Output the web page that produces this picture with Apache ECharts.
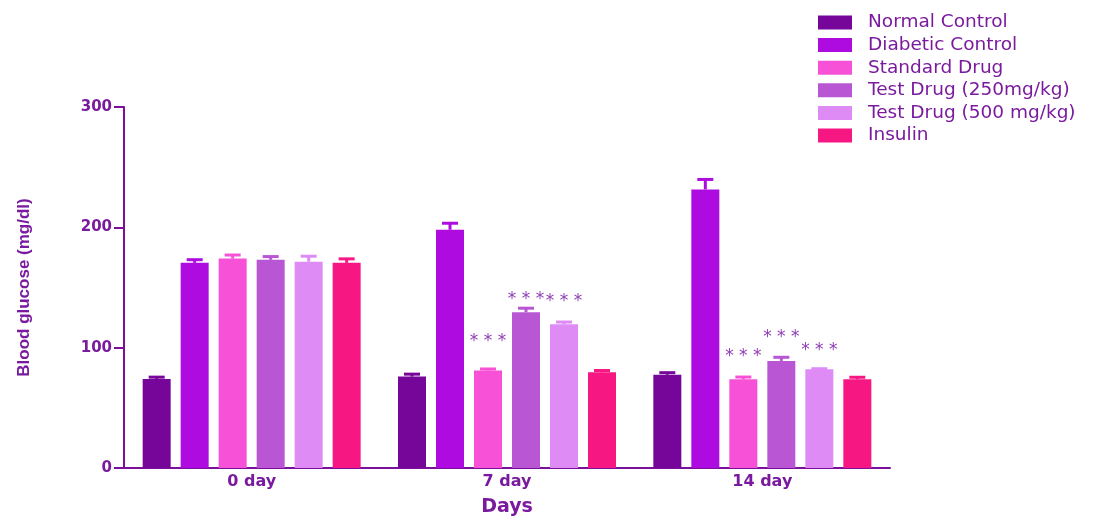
<!DOCTYPE html>
<html>
<head>
<meta charset="utf-8">
<script src="https://cdn.jsdelivr.net/npm/echarts@6/dist/echarts.min.js"></script>
<style>
html,body{margin:0;padding:0;background:#fff;}
#chart{width:1105px;height:516px;}
</style>
</head>
<body>
<div id="chart"></div>
<script>
const categories = ['0 day', '7 day', '14 day'];
const seriesNames = ['Normal Control', 'Diabetic Control', 'Standard Drug', 'Test Drug (250mg/kg)', 'Test Drug (500 mg/kg)', 'Insulin'];
const yTicks = [0, 100, 200, 300];

const normalControl   = [74, 76, 77.5];
const diabeticControl = [170.5, 198, 231.5];
const standardDrug    = [174, 81, 73.7];
const testDrug250     = [173, 129.5, 89];
const testDrug500     = [171.5, 119.5, 82];
const insulin         = [170.5, 79.5, 73.7];

const normalErr   = [1.5, 2, 1.7];
const diabeticErr = [2.6, 5.4, 8.3];
const standardErr = [3, 1.3, 1.9];
const test250Err  = [2.7, 3.3, 3];
const test500Err  = [4.5, 1.8, 0.5];
const insulinErr  = [3.3, 1.5, 1.7];

// significance markers: series index, category index, level (mg/dl)
const starSeries = [2, 3, 4, 2, 3, 4];
const starCats   = [1, 1, 1, 2, 2, 2];
const starLevels = [106.4, 141.9, 139.6, 94.5, 109.7, 98.9];
const starText = '* * *';

const colors = ['#76069A', '#AD0BE0', '#F752D7', '#B956D4', '#DE8BF6', '#F71783'];
const textColor = '#7A1A9E';
const axisColor = '#7A0F9C';
const starColor = '#8E3FB6';

const means = [normalControl, diabeticControl, standardDrug, testDrug250, testDrug500, insulin];
const errs = [normalErr, diabeticErr, standardErr, test250Err, test500Err, insulinErr];

const BAR_W = 28, BAR_GAP = 10, N = seriesNames.length;
function barOffset(sIdx) { return (sIdx - (N - 1) / 2) * (BAR_W + BAR_GAP); }

const series = [];
means.forEach((vals, s) => {
  series.push({
    type: 'bar',
    name: seriesNames[s],
    data: vals,
    barWidth: BAR_W,
    barGap: (BAR_GAP / BAR_W * 100) + '%',
    itemStyle: { color: colors[s] },
    z: 2
  });
});
means.forEach((vals, s) => {
  series.push({
    type: 'custom',
    name: seriesNames[s],
    data: vals.map((v, i) => [i, v, v + errs[s][i]]),
    z: 3,
    renderItem: function (params, api) {
      const base = api.coord([api.value(0), api.value(1)]);
      const top = api.coord([api.value(0), api.value(2)]);
      const x = base[0] + barOffset(s);
      const st = { stroke: colors[s], lineWidth: 3 };
      return {
        type: 'group',
        children: [
          { type: 'line', shape: { x1: x, y1: base[1], x2: x, y2: top[1] }, style: st },
          { type: 'line', shape: { x1: x - 8, y1: top[1], x2: x + 8, y2: top[1] }, style: st }
        ]
      };
    }
  });
});
series.push({
  type: 'custom',
  name: 'stars',
  data: starLevels.map((lv, i) => [starCats[i], lv, starSeries[i]]),
  z: 4,
  renderItem: function (params, api) {
    const p = api.coord([api.value(0), api.value(1)]);
    const x = p[0] + barOffset(api.value(2));
    return {
      type: 'text',
      style: {
        x: x, y: p[1] + 2,
        text: starText,
        fill: starColor,
        font: '17px "DejaVu Sans"',
        align: 'center',
        verticalAlign: 'middle'
      }
    };
  }
});

const chart = echarts.init(document.getElementById('chart'), null, { renderer: 'canvas' });
chart.setOption({
  animation: false,
  backgroundColor: '#ffffff',
  grid: { left: 124, right: 215, top: 107, bottom: 48, containLabel: false, outerBoundsMode: 'none' },
  legend: {
    data: seriesNames,
    orient: 'vertical',
    left: 813,
    top: 8,
    itemWidth: 34,
    itemHeight: 14,
    itemGap: 3.6,
    icon: 'rect',
    selectedMode: false,
    textStyle: { color: textColor, fontFamily: '"DejaVu Sans"', fontSize: 18.5, lineHeight: 19, padding: [0, 0, 0, 11] }
  },
  xAxis: {
    type: 'category',
    data: categories,
    name: 'Days',
    nameLocation: 'middle',
    nameGap: 30,
    nameTextStyle: { color: textColor, fontFamily: '"DejaVu Sans"', fontWeight: 'bold', fontSize: 19 },
    axisLine: { lineStyle: { color: axisColor, width: 2 } },
    axisTick: { alignWithLabel: true, length: 7, lineStyle: { color: axisColor, width: 2 } },
    axisLabel: { color: textColor, fontFamily: '"DejaVu Sans"', fontWeight: 'bold', fontSize: 16, margin: 6 }
  },
  yAxis: {
    type: 'value',
    min: yTicks[0],
    max: yTicks[yTicks.length - 1],
    interval: yTicks[1] - yTicks[0],
    name: 'Blood glucose (mg/dl)',
    nameLocation: 'middle',
    nameGap: 91,
    nameTextStyle: { color: textColor, fontFamily: '"Liberation Sans", Arial, sans-serif', fontWeight: 'bold', fontSize: 17 },
    axisLine: { show: true, lineStyle: { color: axisColor, width: 2 } },
    axisTick: { show: true, length: 10, lineStyle: { color: axisColor, width: 2 } },
    axisLabel: { color: textColor, fontFamily: '"DejaVu Sans"', fontWeight: 'bold', fontSize: 15, margin: 12 },
    splitLine: { show: false }
  },
  series: series
});
</script>
</body>
</html>
